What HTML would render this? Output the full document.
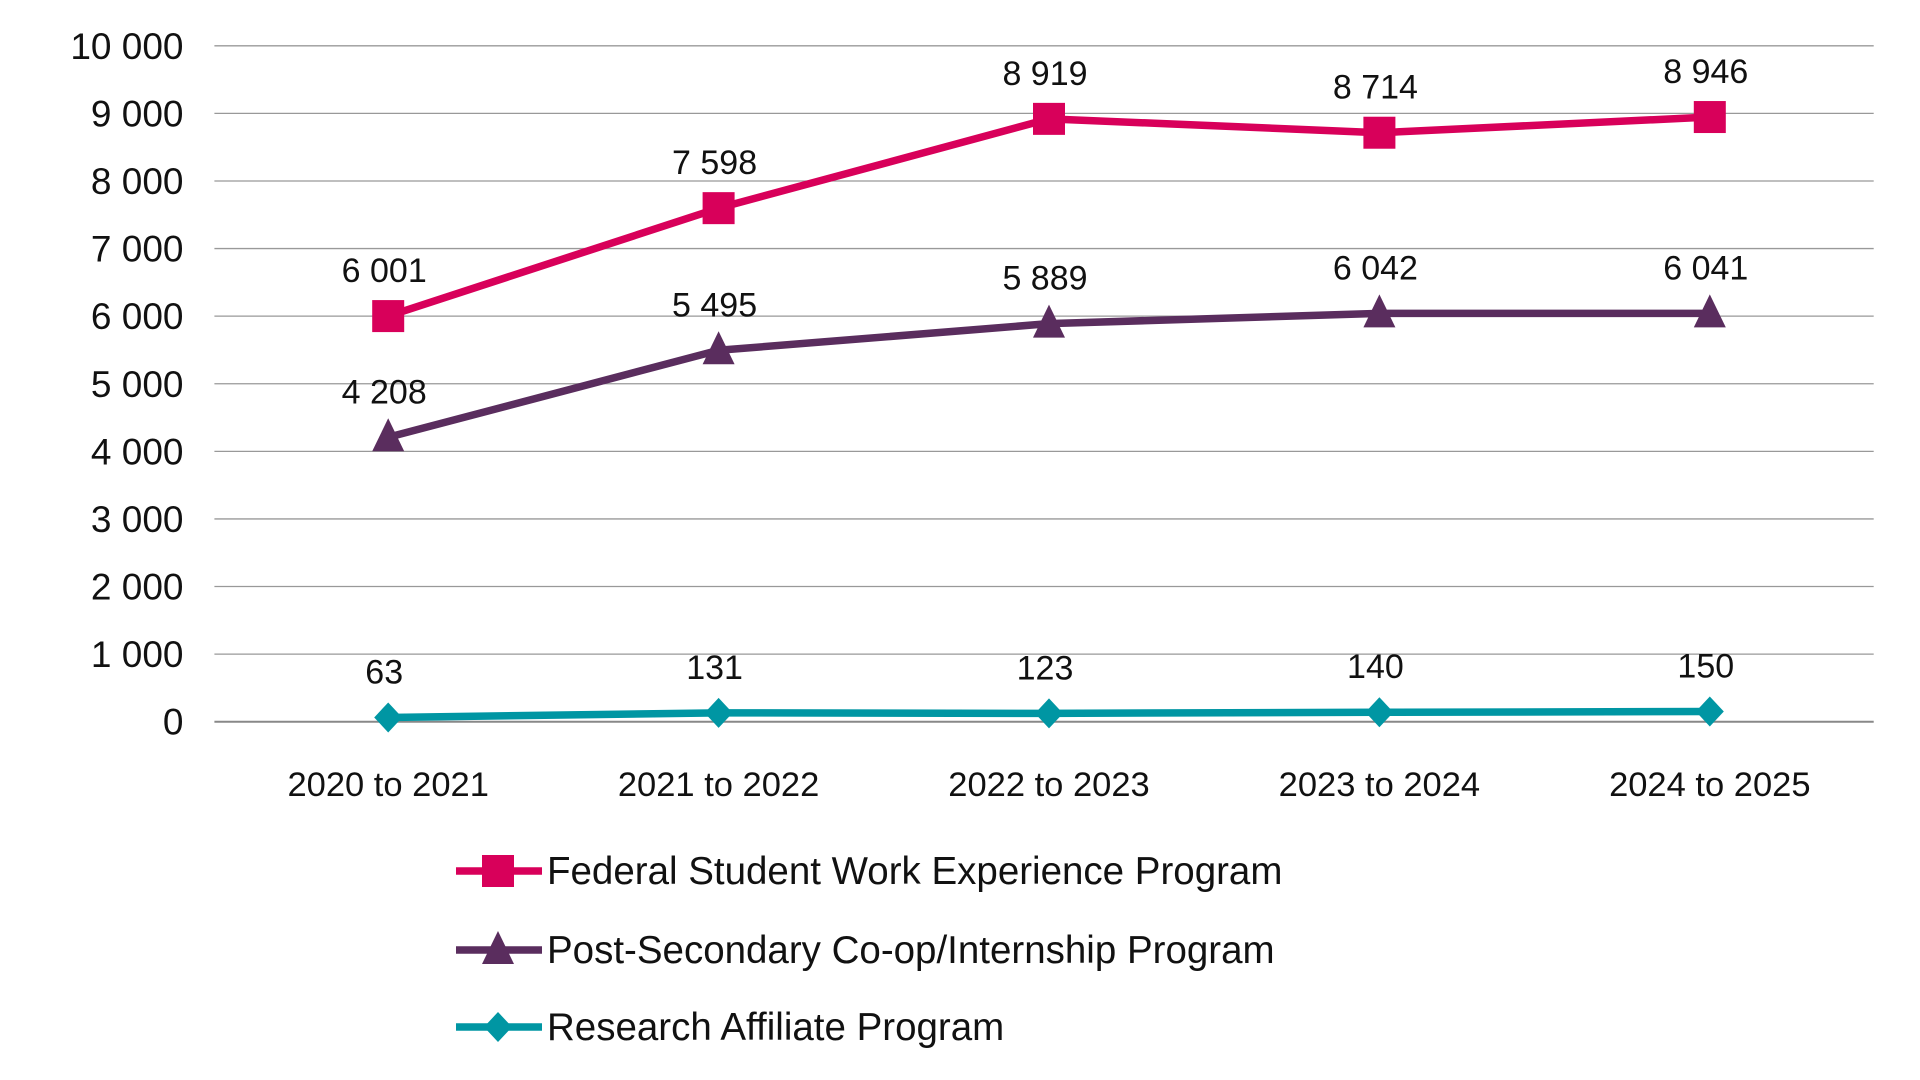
<!DOCTYPE html>
<html><head><meta charset="utf-8"><style>
html,body{margin:0;padding:0;background:#fff;width:1920px;height:1080px;overflow:hidden}
svg text{font-family:"Liberation Sans",sans-serif;fill:#111}
</style></head><body>
<svg id="chart" width="1920" height="1080" xmlns="http://www.w3.org/2000/svg"></svg>
<script>
const categories=["2020 to 2021","2021 to 2022","2022 to 2023","2023 to 2024","2024 to 2025"];
const fswep=[6001,7598,8919,8714,8946];
const pscip=[4208,5495,5889,6042,6041];
const rap=[63,131,123,140,150];
const yTicks=[0,1000,2000,3000,4000,5000,6000,7000,8000,9000,10000];
const seriesNames=["Federal Student Work Experience Program","Post-Secondary Co-op/Internship Program","Research Affiliate Program"];

const NS="http://www.w3.org/2000/svg";
const svg=document.getElementById('chart');
const L=214.4,R=1873.7,T=45.8,B=721.7,yMax=10000;
const x0=388.2,step=330.4;
const x=i=>x0+step*i;
const y=v=>B-(v/yMax)*(B-T);
const fmt=v=>String(v).replace(/\B(?=(\d{3})+(?!\d))/g," ");
function mk(tag,attrs,parent){const e=document.createElementNS(NS,tag);for(const k in attrs)e.setAttribute(k,attrs[k]);(parent||svg).appendChild(e);return e;}

yTicks.forEach(t=>{
  const g=mk('line',{x1:L,x2:R,y1:y(t),y2:y(t),stroke:t===0?'#888':'#999','stroke-width':t===0?2:1.3});
  
  
  const tx=mk('text',{x:183.5,y:y(t)+13,'text-anchor':'end','font-size':37});
  tx.textContent=fmt(t);
  
  
});
categories.forEach((c,i)=>{
  const tx=mk('text',{x:x(i),y:796,'text-anchor':'middle','font-size':34.5});
  tx.textContent=c;
  
  
});
function marker(type,cx,cy,color,g){
  let e;
  if(type==='square')e=mk('rect',{x:cx-16,y:cy-16,width:32,height:32,fill:color},g);
  else if(type==='triangle')e=mk('polygon',{points:`${cx},${cy-19} ${cx+16},${cy+14} ${cx-16},${cy+14}`,fill:color},g);
  else e=mk('polygon',{points:`${cx},${cy-15} ${cx+14},${cy} ${cx},${cy+15} ${cx-14},${cy}`,fill:color},g);
  return e;
}
const series=[[fswep,'#d8005a','square'],[pscip,'#5a2d5e','triangle'],[rap,'#0096a3','diamond']];
series.forEach(([vals,color,type],si)=>{
  const g=mk('g',{});
  
  
  const pl=mk('polyline',{points:vals.map((v,i)=>x(i)+','+y(v)).join(' '),fill:'none',stroke:color,'stroke-width':7.5,'stroke-linejoin':'round'},g);
  
  
  vals.forEach((v,i)=>{
    const m=marker(type,x(i),y(v),color,g);
    
    
    const lb=mk('text',{x:x(i)-4,y:y(v)-34,'text-anchor':'middle','font-size':34},g);
    lb.textContent=fmt(v);
    
    
  });
  const ly=[871,950,1027][si];
  const lg=mk('g',{});
  
  
  mk('line',{x1:456,x2:542,y1:ly,y2:ly,stroke:color,'stroke-width':7.5},lg);
  marker(type,498,ly,color,lg);
  const lt=mk('text',{x:547,y:ly+13,'font-size':38.5},lg);
  lt.textContent=seriesNames[si];
});
</script>
</body></html>
